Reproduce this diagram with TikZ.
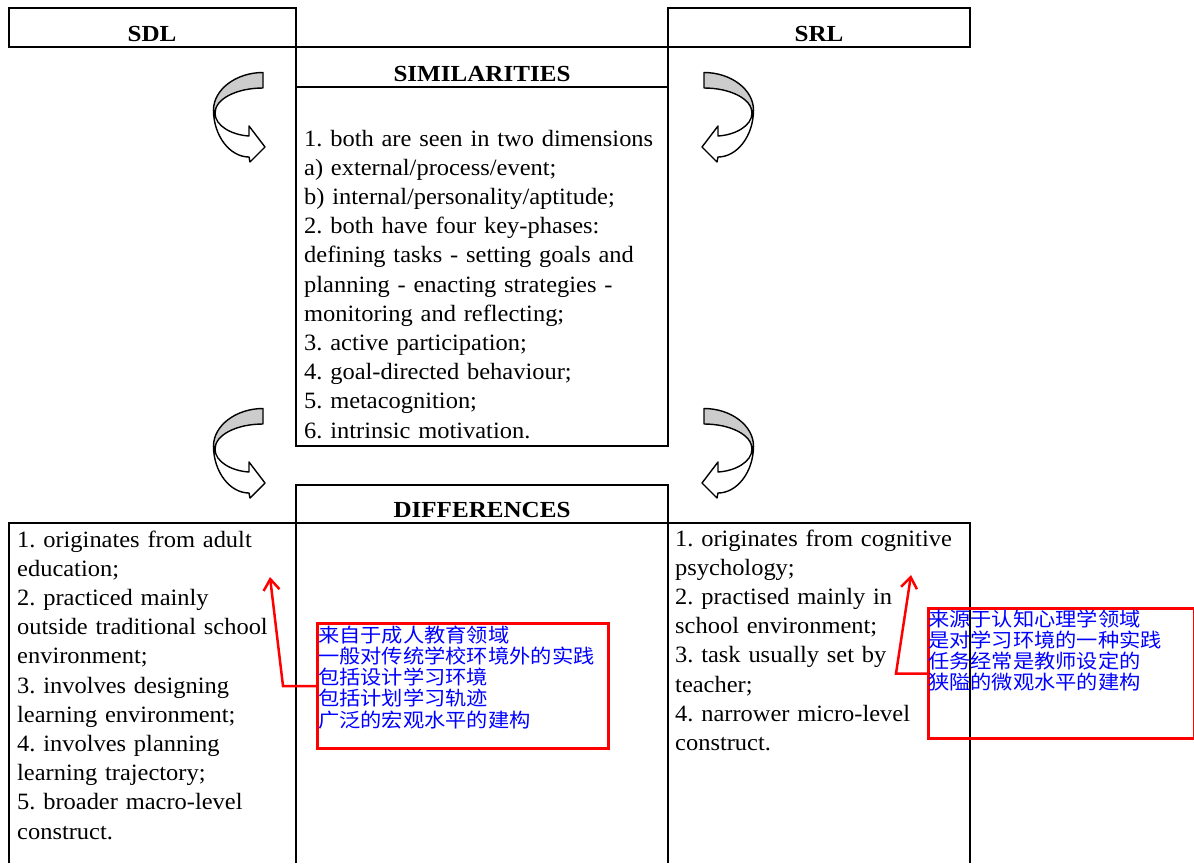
\documentclass[tikz,border=0pt]{standalone}
\usepackage{fontspec}
\setmainfont{Liberation Serif}
\newfontfamily\bodyfont{Liberation Serif}[FakeStretch=1.045]
\newfontfamily\headfont{Liberation Serif}[FakeStretch=1.09]
\newfontfamily\cjk{Noto Sans CJK SC}[FakeStretch=1.09]
\usetikzlibrary{arrows.meta}
\definecolor{annotred}{RGB}{255,0,0}
\definecolor{annotblue}{RGB}{0,0,255}
\definecolor{bandgray}{RGB}{204,204,204}
\newcommand\drawcurvarrow{%
    \filldraw[fill=bandgray, draw=black, line width=1.4pt, line join=round]
      (263,72.5) -- (263,88) .. controls (236.5,88) and (215,99) .. (215,113)
      -- (213.5,110) .. controls (213.5,89.6) and (236,72.5) .. (263,72.5) -- cycle;
    \filldraw[fill=white, draw=black, line width=1.4pt, line join=round]
      (215,113) .. controls (215,126) and (232,135) .. (249,136)
      -- (249,126) -- (265,147) -- (250,162) -- (249,157)
      .. controls (230,157) and (213.5,136) .. (213.5,110) -- cycle;
}
\begin{document}
\frenchspacing
\begin{tikzpicture}[x=1pt,y=-1pt,
  frame/.style={line width=2pt, draw=black},
  head/.style={font=\headfont\bfseries\fontsize{23}{28}\selectfont, inner sep=0pt, anchor=base},
  body/.style={font=\bodyfont\fontsize{23.4}{29.2}\selectfont\frenchspacing, inner sep=0pt, anchor=base west, text width=420pt, align=left},
  note/.style={font=\cjk\fontsize{19.5}{21.3}\selectfont, text=annotblue, inner sep=0pt, anchor=base west, text width=300pt, align=left},
  notebox/.style={draw=annotred, line width=3pt, inner sep=0pt, anchor=north west},
  notearrow/.style={draw=annotred, line width=2.5pt, line join=miter, -{Straight Barb[length=11pt,width=16pt]}}
]
\useasboundingbox (0,0) rectangle (1194,863);

% frames
\draw[frame] (9,8) rectangle (296,47);
\draw[frame] (668,8) rectangle (970,47);
\draw[frame] (296,47) rectangle (668,446);
\draw[frame] (296,87) -- (668,87);
\draw[frame] (296,863) -- (296,485) -- (668,485) -- (668,863);
\draw[frame] (9,863) -- (9,523) -- (970,523) -- (970,863);

% headers
\node[head] (sdl) at (152,41) {SDL};
\node[head] (srl) at (819,41) {SRL};
\node[head] (sim) at (482,81.5) {SIMILARITIES};
\node[head] (diff) at (482,517) {DIFFERENCES};

% body texts
\node[body] (simtext) at (304,146) {1. both are seen in two dimensions\\
a) external/process/event;\\
b) internal/personality/aptitude;\\
2. both have four key-phases:\\
defining tasks - setting goals and\\
planning - enacting strategies -\\
monitoring and reflecting;\\
3. active participation;\\
4. goal-directed behaviour;\\
5. metacognition;\\
6. intrinsic motivation.};

\node[body] (sdltext) at (17,547) {1. originates from adult\\
education;\\
2. practiced mainly\\
outside traditional school\\
environment;\\
3. involves designing\\
learning environment;\\
4. involves planning\\
learning trajectory;\\
5. broader macro-level\\
construct.};

\node[body] (srltext) at (675,546) {1. originates from cognitive\\
psychology;\\
2. practised mainly in\\
school environment;\\
3. task usually set by\\
teacher;\\
4. narrower micro-level\\
construct.};

% curved arrows
\begin{scope}
  \drawcurvarrow
\end{scope}
\begin{scope}[shift={(0,336)}]
  \drawcurvarrow
\end{scope}
\begin{scope}[shift={(967,0)}, xscale=-1]
  \drawcurvarrow
\end{scope}
\begin{scope}[shift={(967,336)}, xscale=-1]
  \drawcurvarrow
\end{scope}

% annotations
\node[notebox, minimum width=291pt, minimum height=125pt] (sdlnotebox) at (316,622) {};
\node[note] (sdlnote) at (318,642) {来自于成人教育领域\\
一般对传统学校环境外的实践\\
包括设计学习环境\\
包括计划学习轨迹\\
广泛的宏观水平的建构};
\coordinate (sdltip) at (270,577);
\draw[notearrow] (sdlnotebox.west) -- ++(-33,0) -- (sdltip);

\node[notebox, minimum width=266pt, minimum height=130pt] (srlnotebox) at (927,607) {};
\node[note] (srlnote) at (928,626) {来源于认知心理学领域\\
是对学习环境的一种实践\\
任务经常是教师设定的\\
狭隘的微观水平的建构};
\coordinate (srltip) at (911,575);
\draw[notearrow] (srlnotebox.west) -- ++(-31,0) -- (srltip);
\end{tikzpicture}
\end{document}
